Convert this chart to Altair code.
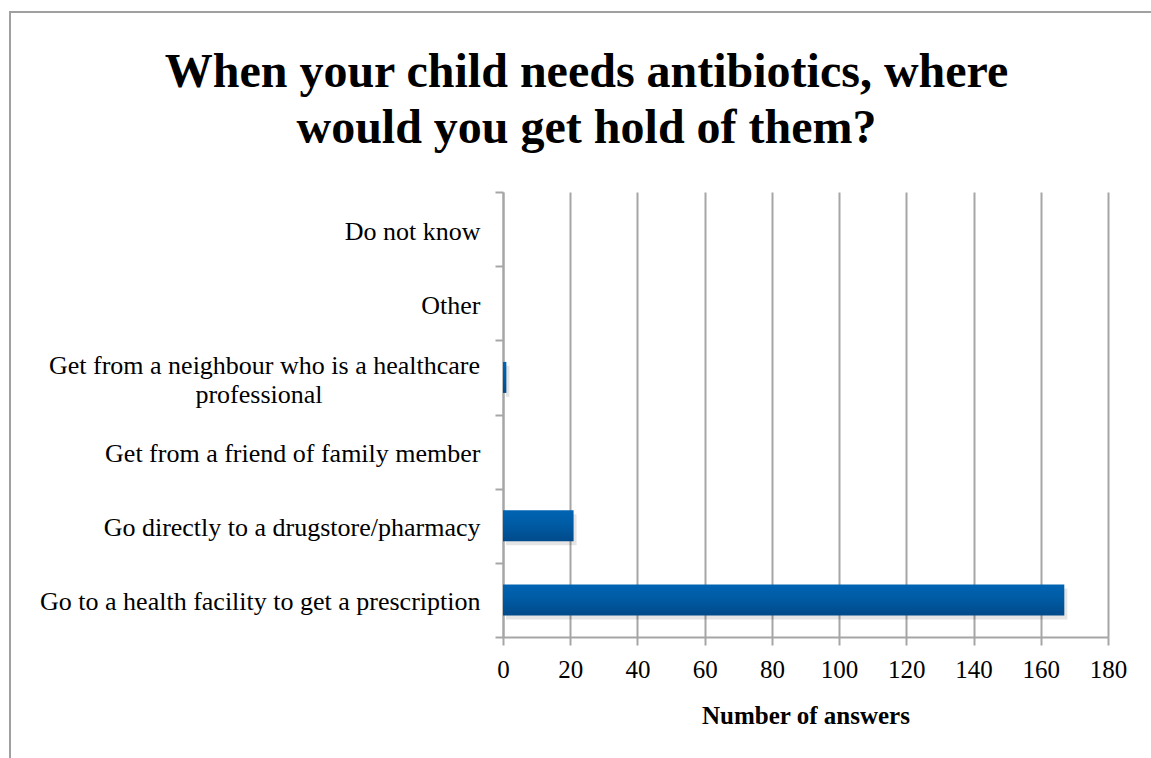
import altair as alt
import pandas as pd

# Survey answers: where parents get antibiotics for their child
categories = [
    "Do not know",
    "Other",
    "Get from a neighbour who is a healthcare professional",
    "Get from a friend of family member",
    "Go directly to a drugstore/pharmacy",
    "Go to a health facility to get a prescription",
]
answers = [0, 0, 1, 0, 21, 167]
x_ticks = [0, 20, 40, 60, 80, 100, 120, 140, 160, 180]

# The long neighbour label is wrapped onto two lines
wrapped_label = categories[2]
wrapped_lines = ["Get from a neighbour who is a healthcare", "professional"]

df = pd.DataFrame({"category": categories, "answers": answers})

FONT = "Liberation Serif"
GRID = "#a6a6a6"
PLOT_W, PLOT_H = 605, 445
PAD_L, PAD_T = 503, 192
FRAME_X, FRAME_Y = 10, 12
LABEL_SIZE = 26

y_sort = alt.Y("category:N", sort=categories)

y_enc = alt.Y(
    "category:N",
    sort=categories,
    scale=alt.Scale(paddingInner=0, paddingOuter=0),
    axis=alt.Axis(
        title=None,
        labelFont=FONT,
        labelFontSize=LABEL_SIZE,
        labelColor="#000000",
        labelPadding=15,
        labelOffset=2,
        labelLimit=0,
        labelExpr=f"datum.label == '{wrapped_label}' ? '' : datum.label",
        tickBand="extent",
        tickSize=8,
        tickColor=GRID,
        tickWidth=2,
        domainColor=GRID,
        domainWidth=2,
        grid=False,
    ),
)

x_enc = alt.X(
    "answers:Q",
    scale=alt.Scale(domain=[0, 180], nice=False),
    axis=alt.Axis(
        title="Number of answers",
        values=x_ticks,
        labelFont=FONT,
        labelFontSize=25,
        labelColor="#000000",
        labelPadding=12,
        labelFlush=False,
        titleFont=FONT,
        titleFontSize=25,
        titleFontWeight="bold",
        titleColor="#000000",
        titlePadding=21,
        tickSize=8,
        tickColor=GRID,
        tickWidth=2,
        domainColor=GRID,
        domainWidth=2,
        grid=True,
        gridColor=GRID,
        gridWidth=2,
    ),
)

# Soft drop shadow under each bar
shadow = alt.Chart(df).mark_bar(
    size=31, color="#000000", opacity=0.10, xOffset=3, yOffset=4
).encode(x="answers:Q", y=y_sort)

bars = alt.Chart(df).mark_bar(
    size=31,
    color=alt.Gradient(
        gradient="linear",
        stops=[
            alt.GradientStop(color="#0064b3", offset=0),
            alt.GradientStop(color="#005aa2", offset=0.5),
            alt.GradientStop(color="#004a8a", offset=1),
        ],
        x1=0, x2=0, y1=0, y2=1,
    ),
).encode(x=x_enc, y=y_enc)

# Two-line category label: first line right-aligned, second centred beneath it
wrap_df = pd.DataFrame({"category": [wrapped_label], "l1": [wrapped_lines[0]], "l2": [wrapped_lines[1]]})
wrap1 = alt.Chart(wrap_df).mark_text(
    font=FONT, fontSize=LABEL_SIZE, align="right", baseline="middle", dy=-11
).encode(y=y_sort, x=alt.value(-23), text="l1:N")
wrap2 = alt.Chart(wrap_df).mark_text(
    font=FONT, fontSize=LABEL_SIZE, align="center", baseline="middle", dy=18
).encode(y=y_sort, x=alt.value(-244), text="l2:N")

# Outer chart frame
frame = alt.Chart(df).mark_rect(
    fill=None, stroke="#a0a0a0", strokeWidth=2
).encode(
    x=alt.value(FRAME_X - PAD_L),
    x2=alt.value(PLOT_W + 80),
    y=alt.value(FRAME_Y - PAD_T),
    y2=alt.value(PLOT_H + 200),
)

chart = alt.layer(frame, shadow, bars, wrap1, wrap2).properties(
    width=PLOT_W,
    height=PLOT_H,
    background="#ffffff",
    title=alt.TitleParams(
        text=["When your child needs antibiotics, where", "would you get hold of them?"],
        font=FONT,
        fontSize=48,
        fontWeight="bold",
        color="#000000",
        anchor="middle",
        frame="group",
        lineHeight=56,
        dx=-219,
        # the frame rect sets the top of the bounds; shift the title back down
        dy=PAD_T - FRAME_Y + 1,
        offset=39,
    ),
    autosize=alt.AutoSizeParams(type="none"),
    padding={"left": PAD_L, "top": PAD_T, "right": 1151 - PAD_L - PLOT_W, "bottom": 758 - PAD_T - PLOT_H},
).configure_view(stroke=None)

chart.save("out.html", embed_options={"renderer": "svg", "actions": False})
